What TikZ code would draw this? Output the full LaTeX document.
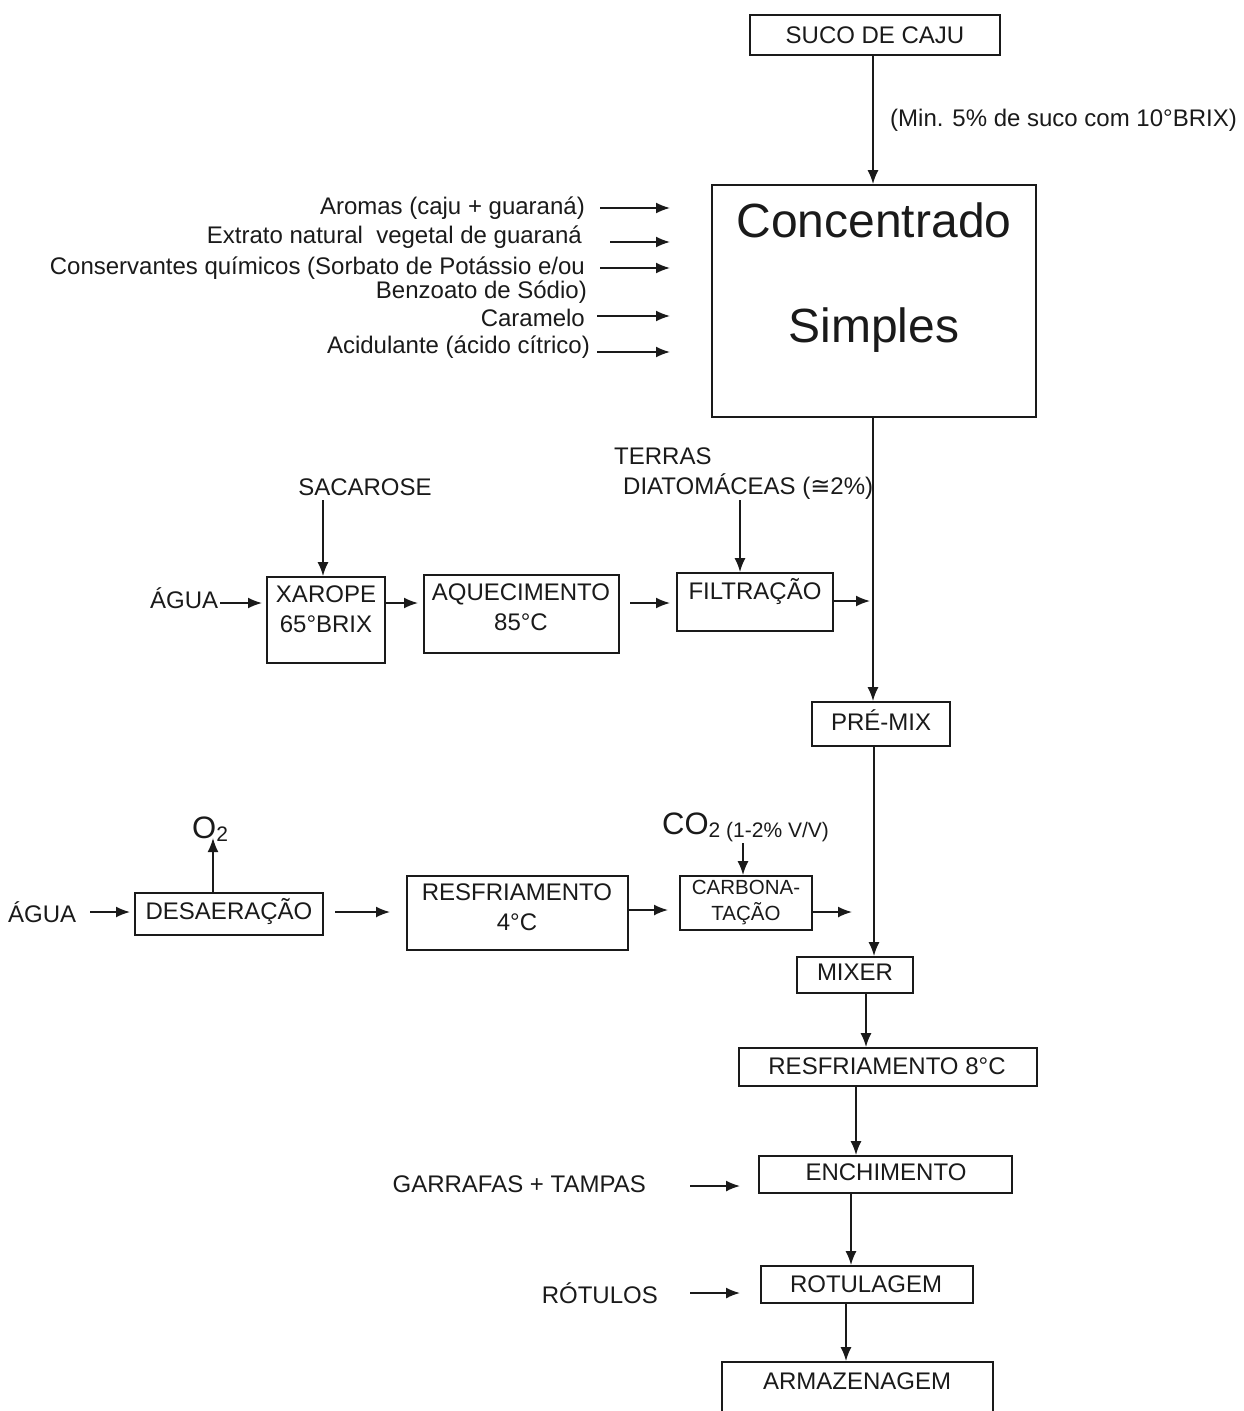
\documentclass[tikz,border=0pt]{standalone}
\usepackage{fontspec}
\setmainfont{Liberation Sans}
\newfontfamily\dejavu{DejaVu Sans}
\usetikzlibrary{arrows.meta}
\newcommand\fs{\fontsize{24}{30}\selectfont}
\newcommand\fsbig{\fontsize{48}{56}\selectfont}
\newcommand\fssmall{\fontsize{20.5}{26}\selectfont}
\definecolor{ink}{HTML}{1A1A1A}
\tikzset{
  box/.style={draw=ink, line width=1.8pt, inner sep=0pt},
  lbl/.style={inner sep=0pt, font=\fs, text=ink},
  arr/.style={draw=ink, line width=1.7pt, -{Latex[length=14pt,width=11pt]}},
}
\begin{document}
\begin{tikzpicture}[x=1pt,y=1pt]
\useasboundingbox (0,0) rectangle (1243,-1411);
\clip (0,0) rectangle (1243,-1411);

% process boxes
\node[box, minimum width=250pt, minimum height=40pt]  (suco)   at (875,-35) {};
\node[box, minimum width=324pt, minimum height=232pt] (conc)   at (874,-301) {};
\node[box, minimum width=118pt, minimum height=86pt]  (xarope) at (326,-620) {};
\node[box, minimum width=195pt, minimum height=78pt]  (aquec)  at (521.5,-614) {};
\node[box, minimum width=156pt, minimum height=58pt]  (filtr)  at (755,-602) {};
\node[box, minimum width=138pt, minimum height=44pt]  (premix) at (881,-724) {};
\node[box, minimum width=188pt, minimum height=42pt]  (desa)   at (229,-914) {};
\node[box, minimum width=221pt, minimum height=74pt]  (resfa)  at (517.5,-913) {};
\node[box, minimum width=132pt, minimum height=54pt]  (carb)   at (746,-903) {};
\node[box, minimum width=116pt, minimum height=36pt]  (mixer)  at (855,-975) {};
\node[box, minimum width=298pt, minimum height=38pt]  (resfb)  at (888,-1067) {};
\node[box, minimum width=253pt, minimum height=37pt]  (ench)   at (885.5,-1174.5) {};
\node[box, minimum width=212pt, minimum height=37pt]  (rotul)  at (867,-1284.5) {};
\node[box, minimum width=271pt, minimum height=68pt]  (armaz)  at (857.5,-1396) {};

% box texts
\node[lbl] (sucoT)   at (875,-35) {SUCO DE CAJU};
\node[lbl, font=\fsbig] (concA) at (874,-220) {Concentrado};
\node[lbl, font=\fsbig] (concB) at (874,-330) {Simples};
\node[lbl, align=center] (xaropeT) at (326,-609) {XAROPE\\65°BRIX};
\node[lbl, align=center] (aquecT)  at (521,-607) {AQUECIMENTO\\85°C};
\node[lbl] (filtrT)  at (755,-591) {FILTRAÇÃO};
\node[lbl] (premixT) at (881,-720) {PRÉ-MIX};
\node[lbl] (desaT)   at (229,-911) {DESAERAÇÃO};
\node[lbl, align=center] (resfaT) at (517,-907) {RESFRIAMENTO\\4°C};
\node[lbl, align=center, font=\fssmall] (carbT) at (746,-903) {CARBONA-\\TAÇÃO};
\node[lbl] (mixerT)  at (855,-972) {MIXER};
\node[lbl] (resfbT)  at (887,-1066) {RESFRIAMENTO 8°C};
\node[lbl] (enchT)   at (886,-1172) {ENCHIMENTO};
\node[lbl] (rotulT)  at (866,-1284) {ROTULAGEM};
\node[lbl] (armazT)  at (857,-1381) {ARMAZENAGEM};

% free labels
\node[lbl, anchor=west] (minT) at (890,-120) {(Min. 5\% de suco com 10°BRIX)};
\node[lbl, anchor=east] (aromas)   at (585,-208) {Aromas (caju + guaraná)};
\node[lbl, anchor=east] (extrato)  at (582,-237) {Extrato natural\ \ vegetal de guaraná};
\node[lbl, anchor=east] (consA)    at (585,-268) {Conservantes químicos (Sorbato de Potássio e/ou};
\node[lbl, anchor=east] (consB)    at (587,-292) {Benzoato de Sódio)};
\node[lbl, anchor=east] (caramelo) at (585,-318) {Caramelo};
\node[lbl, anchor=east] (acid)     at (590,-347) {Acidulante (ácido cítrico)};
\node[lbl] (sacT) at (365,-487) {SACAROSE};
\node[lbl, anchor=west] (terrasA) at (614,-456) {TERRAS};
\node[lbl, anchor=west] (terrasB) at (623,-487) {DIATOMÁCEAS ({\dejavu ≅}2\%)};
\node[lbl, anchor=west] (aguaA) at (150,-598) {ÁGUA};
\node[lbl, anchor=west] (aguaB) at (8,-912) {ÁGUA};
\node[lbl, anchor=base west] (oxi) at (192,-838) {{\fontsize{31}{31}\selectfont O}\raisebox{-3pt}{\fontsize{21}{21}\selectfont 2}};
\node[lbl, anchor=base west] (co2T) at (662,-834) {{\fontsize{31}{31}\selectfont CO}\raisebox{-3pt}{\fontsize{21}{21}\selectfont 2 (1-2\% V/V)}};
\node[lbl, anchor=east] (garrafas) at (646,-1184) {GARRAFAS + TAMPAS};
\node[lbl, anchor=east] (rotulos)  at (658,-1293) {RÓTULOS};

% x positions of the main vertical line
\coordinate (xm) at (873,0);
\coordinate (xp) at (874,0);

% main line
\draw[arr] (suco.south -| xm) -- (conc.north -| xm);
\draw[arr] (conc.south -| xm) -- (premix.north -| xm);
\draw[arr] (premix.south -| xp) -- (mixer.north -| xp);
\draw[arr] (mixer.south -| 866,0) -- (resfb.north -| 866,0);
\draw[arr] (resfb.south -| 856,0) -- (ench.north -| 856,0);
\draw[arr] (ench.south -| 851,0) -- (rotul.north -| 851,0);
\draw[arr] (rotul.south -| 846,0) -- (armaz.north -| 846,0);

% ingredient arrows into the concentrate
\coordinate (inA) at (670,-208);
\coordinate (inB) at (670,-242);
\coordinate (inC) at (670,-268);
\coordinate (inD) at (670,-316);
\coordinate (inE) at (670,-352);
\draw[arr] (600,-208) -- (inA);
\draw[arr] (610,-242) -- (inB);
\draw[arr] (600,-268) -- (inC);
\draw[arr] (597,-316) -- (inD);
\draw[arr] (597,-352) -- (inE);

% syrup line
\coordinate (sacS) at (323,-500);
\coordinate (terS) at (740,-500);
\draw[arr] (sacS) -- (xarope.north -| sacS);
\draw[arr] (terS) -- (filtr.north -| terS);
\coordinate (aguaAend) at (262,-603);
\draw[arr] (220,-603) -- (aguaAend);
\coordinate (xarE) at (418,-603);
\draw[arr] (xarope.east |- xarE) -- (xarE);
\coordinate (aqE) at (670,-603);
\draw[arr] (630,-603) -- (aqE);
\coordinate (fiE) at (870,-601);
\draw[arr] (filtr.east |- fiE) -- (fiE);

% water line
\coordinate (oxE) at (213,-838);
\draw[arr] (desa.north -| oxE) -- (oxE);
\coordinate (aguaBend) at (130,-912);
\draw[arr] (90,-912) -- (aguaBend);
\coordinate (deE) at (390,-912);
\draw[arr] (335,-912) -- (deE);
\coordinate (reE) at (668,-910);
\draw[arr] (resfa.east |- reE) -- (reE);
\coordinate (coS) at (743,-843);
\draw[arr] (coS) -- (carb.north -| coS);
\coordinate (caE) at (852,-912);
\draw[arr] (carb.east |- caE) -- (caE);

% packaging inputs
\coordinate (gaE) at (740,-1186);
\draw[arr] (690,-1186) -- (gaE);
\coordinate (roE) at (740,-1293);
\draw[arr] (690,-1293) -- (roE);
\end{tikzpicture}
\end{document}
